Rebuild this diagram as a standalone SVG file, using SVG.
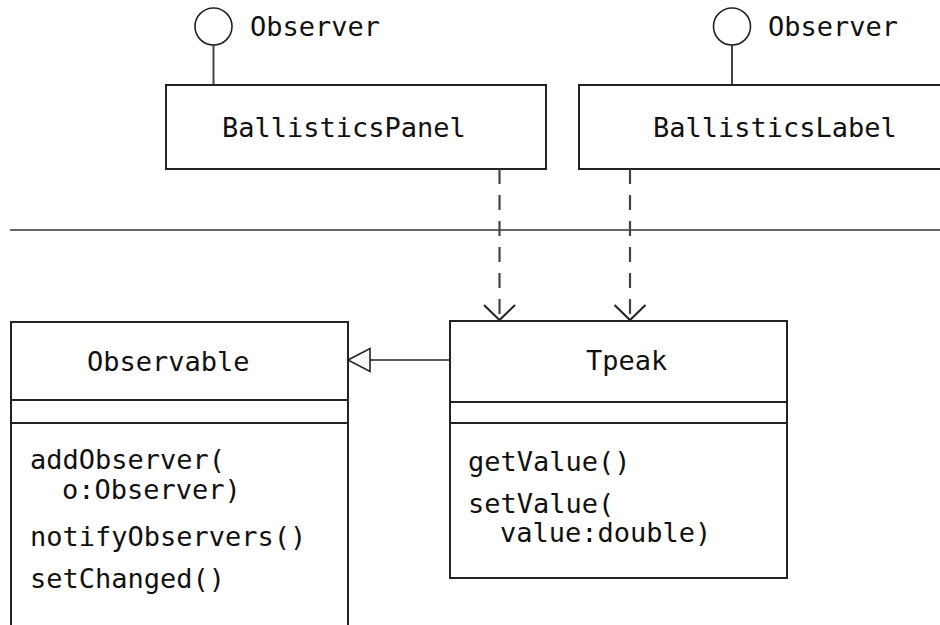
<svg xmlns="http://www.w3.org/2000/svg" width="940" height="625" viewBox="0 0 940 625">
<style>
text{font-family:"DejaVu Sans Mono","Liberation Mono",monospace;font-size:27px;fill:#111}
.box{fill:#fff;stroke:#222;stroke-width:2}
.div{stroke:#222;stroke-width:2}
.lol{fill:#fff;stroke:#222;stroke-width:1.6}
.stem{stroke:#444;stroke-width:2}
.dash{stroke:#444;stroke-width:2.2;stroke-dasharray:15 11;fill:none}
.head{fill:none;stroke:#222;stroke-width:2}
.gen{stroke:#222;stroke-width:1.6;fill:none}
.sep{stroke:#666;stroke-width:2}
</style>
<rect width="940" height="625" fill="#fff"/>
<line class="sep" x1="10" y1="230" x2="940" y2="230"/>
<g id="BallisticsPanel">
<line class="stem" x1="213.5" y1="45" x2="213.5" y2="85"/>
<circle class="lol" cx="213.5" cy="26.5" r="18.5"/>
<text x="250" y="36">Observer</text>
<rect class="box" x="166" y="85" width="380" height="84"/>
<text x="222" y="137">BallisticsPanel</text>
</g>
<g id="BallisticsLabel">
<line class="stem" x1="732" y1="45" x2="732" y2="85"/>
<circle class="lol" cx="732" cy="26.5" r="18.5"/>
<text x="768" y="36">Observer</text>
<rect class="box" x="579" y="85" width="380" height="84"/>
<text x="653" y="137">BallisticsLabel</text>
</g>
<g id="Observable">
<rect class="box" x="11" y="322" width="337" height="330"/>
<line class="div" x1="11" y1="400" x2="348" y2="400"/>
<line class="div" x1="11" y1="423" x2="348" y2="423"/>
<text x="87" y="371">Observable</text>
<text x="30" y="469">addObserver(</text>
<text x="62" y="499">o:Observer)</text>
<text x="30" y="546">notifyObservers()</text>
<text x="30" y="588">setChanged()</text>
</g>
<g id="Tpeak">
<rect class="box" x="450" y="321" width="337" height="257"/>
<line class="div" x1="450" y1="402" x2="787" y2="402"/>
<line class="div" x1="450" y1="423" x2="787" y2="423"/>
<text x="586" y="370">Tpeak</text>
<text x="468" y="471">getValue()</text>
<text x="468" y="513">setValue(</text>
<text x="500" y="542">value:double)</text>
</g>
<g id="connectors">
<line class="dash" x1="499.5" y1="169" x2="499.5" y2="319"/>
<polyline class="head" points="484,305 499.5,320 515,305"/>
<line class="dash" x1="630" y1="169" x2="630" y2="319"/>
<polyline class="head" points="614.5,305 630,320 645.5,305"/>
<line class="gen" x1="450" y1="360" x2="370" y2="360"/>
<polygon class="gen" fill="#fff" points="348,360 370,348.5 370,371.5"/>
</g>
</svg>
